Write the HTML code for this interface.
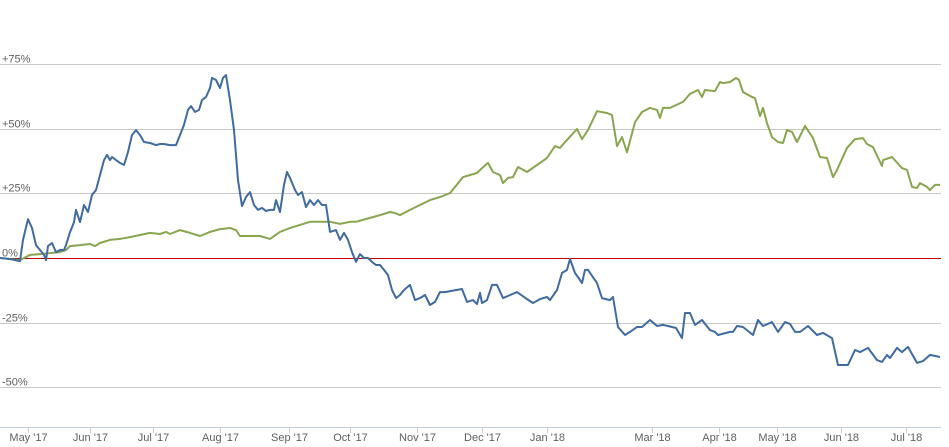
<!DOCTYPE html>
<html><head><meta charset="utf-8"><style>
html,body{margin:0;padding:0;background:#fff;}
svg{display:block;font-family:"Liberation Sans",sans-serif;}
</style></head><body>
<svg id="chart" width="949" height="447" xmlns="http://www.w3.org/2000/svg">
<g id="grid"></g>
<g id="xaxis"></g>
<g id="series"></g>
</svg>
<script>
const yTicks = [75, 50, 25, 0, -25, -50];
const yTickLabels = ["+75%", "+50%", "+25%", "0%", "-25%", "-50%"];
const xTickPos = [14, 45, 76.5, 110, 144.5, 175, 208.5, 241, 273.5, 326, 359.5, 388.5, 420.5, 453];
const xTickLabels = ["May '17","Jun '17","Jul '17","Aug '17","Sep '17","Oct '17","Nov '17","Dec '17","Jan '18","Mar '18","Apr '18","May '18","Jun '18","Jul '18"];

const blueSessions = [0,5,10,11.5,14,16,18,20,22,23,24,26,28,30,32,33,35,37,38,40,42,44,46,48,50,52,53.5,55,56,58,60,62,64,66,68,70,72,75,78,80,82,85,88,90,92,94,95.5,97.5,99.5,101,103,105,106,108,110,111.5,113,115,117,119,121,123,125,127,129,131,133,135,137,138,140,142,143.5,145,147.5,149,151,153,155,157,159,161,163,165,168,170,172,174,176,178,180,182,184,186,188,190,192,194,196,198,200,202,205,207.5,210,212.5,215,217.5,220,222.5,225,231,233.5,236.5,238.5,240,241,243.5,246,248.5,251.5,258.5,263.5,266.5,270,273.5,275,278.5,281,283.5,285,287.5,289,291,292.5,294,298.5,301,305,306.5,309,312.5,315,318.5,321,325,328.5,331.5,336,338,341,342.5,345,347.5,351,355,357.5,359,365,366.5,368.5,371.5,376.5,379,381.5,386,389,392.5,395,397.5,400,404,408.5,411.5,416,419,424,427.5,430,434,438.5,441,443.5,445,448.5,451,454,458.5,461.5,465,470];
const blueValues = [0,-0.4,-1.2,7,15,11.6,5,3.1,1.2,-0.8,4.6,5.8,2.3,3.1,3.1,5,10,13.9,18.6,13.9,20.5,17.8,24.4,26.3,32.1,37.9,39.9,37.9,39.1,37.9,36.8,36,41,47.6,49.5,47.6,44.9,44.5,43.7,44.1,44.1,43.7,43.7,47.6,51.5,57.3,58.8,56.5,57.3,61.1,62.3,65.8,69.7,68.9,65.8,69.7,70.8,61.1,49.5,30.2,20.1,23.6,25.5,20.5,18.6,19.4,18.2,18.6,18.6,22.4,17.8,28.3,33.3,31,26.3,24.4,25.5,19.7,22.4,20.5,22.4,20.5,20.5,10.1,10.8,7,9.7,7,2.3,-1.5,1.5,0,0,-1.5,-2.7,-2.7,-4.6,-6.6,-12.4,-15.5,-14.3,-12.4,-10.4,-16.3,-15.5,-14.3,-18.2,-17,-13.2,-13.2,-12.8,-12,-17,-16.3,-17.8,-13.5,-17.4,-16.3,-10.4,-10.4,-15.5,-13.2,-15.9,-17.4,-15.9,-15.1,-16.3,-12.4,-5.8,-4.6,-0.4,-5.8,-7.4,-9.7,-4.6,-4.6,-9.7,-15.5,-16.3,-15.1,-26.7,-29.8,-28.6,-26.7,-26.7,-24,-26.3,-25.9,-26.7,-27.1,-31,-21.3,-21.3,-25.9,-24,-27.9,-28.6,-29.8,-28.6,-28.6,-26.3,-26.7,-29.8,-24,-26.3,-24.8,-28.6,-24.8,-25.5,-28.6,-28.6,-26.3,-29.8,-29,-31,-41.4,-41.4,-35.6,-36.4,-34.8,-39.5,-40.2,-37.5,-38.7,-34.8,-36.4,-34.4,-40.6,-39.9,-37.5,-38.3,-37.5];

const greenSessions = [0,10,15,20,30,33,35,40,45,47.5,50,55,60,65,70,75,80,83,85,90,95,100,105,110,115,118,120,125,130,135,140,145,150,155,160,165,170,175,178,185,190,195,197.5,200,205,210,215,220,225,231.5,238.5,241,244,246.5,250,251.5,254,256.5,259,263.5,268.5,273.5,277.5,280,283.5,288.5,291,294,298.5,303.5,306,308.5,311,313.5,317.5,321,325,328.5,330,331.5,335,341.5,345,349,351,352.5,357.5,360,361.5,365,368,369.5,371.5,376,377.5,380,381.5,383.5,386,389,391.5,393.5,396,398.5,402.5,406.5,410,413.5,416.5,418.5,423.5,427.5,431.5,433.5,436.5,441,441.5,446,451,453.5,456,458.5,460,463.5,465,467.5,470];
const greenValues = [0,-0.8,1.2,1.5,2.3,3.1,4.6,5,5.4,4.6,5.8,7,7.4,8.1,8.9,9.7,9.3,10.1,9.3,10.8,9.7,8.5,10.1,11.2,11.6,10.8,8.5,8.5,8.5,7.4,10.1,11.6,12.8,14,14,14,13.2,14,14,15.5,16.6,17.8,17.4,16.6,18.6,20.5,22.4,23.6,25.1,31.3,32.9,34.8,36.8,33.3,32.1,29,31,31.3,35.2,33.3,36,38.7,43.3,42.6,45.7,49.9,46,49.5,56.8,56.1,55.3,43.3,46.8,40.9,52.6,56.5,58.1,57.3,54.2,58.1,58.1,60.4,63.5,65,62.3,65,64.6,68.1,67.7,68.1,69.7,68.9,64.2,62.3,61.9,54.9,58.1,52.2,46.8,44.9,44.5,49.5,48.8,44.9,51.1,46.4,39.1,38.7,31.3,34.1,42.6,46,46.4,44.1,42.9,35.6,37.9,39.1,34.8,34.1,27.5,27.1,29,27.5,26.3,28.3,28.3];

const NS = "http://www.w3.org/2000/svg";
function xScale(s){ return s * 2; }
function yScale(v){ return 258 - v * 2.584; }
function mk(tag, attrs, parent){
  const e = document.createElementNS(NS, tag);
  for (const k in attrs) e.setAttribute(k, attrs[k]);
  parent.appendChild(e);
  return e;
}
const grid = document.getElementById('grid');
yTicks.forEach((t, i) => {
  const y = Math.round(yScale(t)) + 0.5;
  if (t !== 0) {
    const l = mk('line', {x1:0, x2:941, y1:y, y2:y, stroke:'#c8c8c8', 'stroke-width':1}, grid);
    
    
  }
  const tx = mk('text', {x:2, y:y - 2, fill:'#606060', 'font-size':11}, grid);
  tx.textContent = yTickLabels[i];
  
  
});
const xaxis = document.getElementById('xaxis');
const al = mk('line', {x1:0, x2:941, y1:427.5, y2:427.5, stroke:'#c0d0e0', 'stroke-width':1}, xaxis);


xTickPos.forEach((p, i) => {
  const x = Math.round(xScale(p)) + 0.5;
  const tk = mk('line', {x1:x, x2:x, y1:427, y2:433, stroke:'#c0d0e0', 'stroke-width':1}, xaxis);
  
  
  const tx = mk('text', {x:x, y:441, fill:'#606060', 'font-size':11, 'text-anchor':'middle'}, xaxis);
  tx.textContent = xTickLabels[i];
  
  
});
const series = document.getElementById('series');
const zl = mk('line', {x1:0, x2:941, y1:258.5, y2:258.5, stroke:'#c00000', 'stroke-width':1}, series);


function pathFor(xs, vs){
  return xs.map((s, i) => (i ? 'L' : 'M') + xScale(s).toFixed(1) + ' ' + yScale(vs[i]).toFixed(1)).join(' ');
}
const g = mk('path', {d:pathFor(greenSessions, greenValues), fill:'none', stroke:'#89a54e', 'stroke-width':2, 'stroke-linejoin':'round'}, series);


const b = mk('path', {d:pathFor(blueSessions, blueValues), fill:'none', stroke:'#3f6b9f', 'stroke-width':2, 'stroke-linejoin':'round'}, series);


</script>
</body></html>
